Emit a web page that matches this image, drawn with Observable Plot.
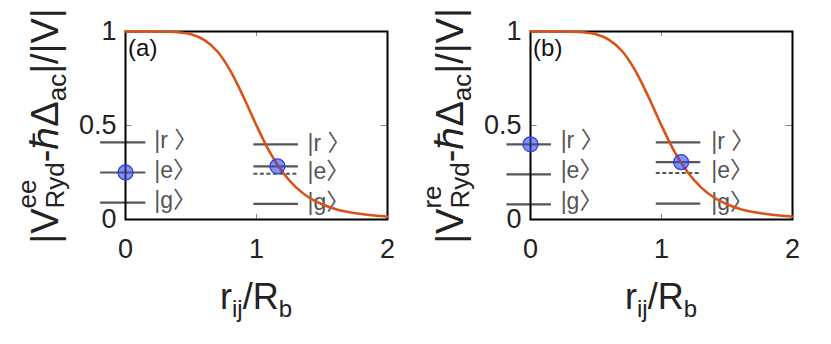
<!DOCTYPE html>
<html><head><meta charset="utf-8">
<script src="https://cdn.jsdelivr.net/npm/d3@7"></script>
<script src="https://cdn.jsdelivr.net/npm/@observablehq/plot@0.6"></script>
<style>
html,body{margin:0;padding:0;background:#fff;}
#fig{position:relative;width:831px;height:344px;overflow:hidden;}
#fig svg{position:absolute;top:0;background:transparent;max-width:none;}
</style></head><body><div id="fig"></div>
<script>
// ---- data ----
const rValues   = [0,0.1,0.2,0.3,0.4,0.5,0.6,0.7,0.8,0.9,1.0,1.1,1.2,1.3,1.4,1.5,1.6,1.7,1.8,1.9,2.0];
const potential = [1,1,1,0.999,0.996,0.985,0.955,0.895,0.792,0.653,0.5,0.36,0.251,0.172,0.117,0.081,0.056,0.04,0.029,0.021,0.015];
const stateLabels = ["|r \u3009", "|e\u3009", "|g\u3009"];
const xTicks = [0, 1, 2];
const yTicks = [0, 0.5, 1];
const panelTags = ["(a)", "(b)"];
const yLabelSups = ["ee", "re"];

// panel (a)
const aLeftLevels  = [0.41, 0.25, 0.09];
const aLeftLabelY  = [0.42, 0.26, 0.10];
const aRightLevels = [0.40, 0.283, 0.083];
const aRightLabelY = [0.405, 0.255, 0.09];
const aDashedLevel = [0.243];
const aDotR = [0, 1.16];
const aDotV = [0.25, 0.283];
// panel (b)
const bLeftLevels  = [0.40, 0.24, 0.08];
const bLeftLabelY  = [0.42, 0.26, 0.095];
const bRightLevels = [0.41, 0.305, 0.084];
const bRightLabelY = [0.415, 0.26, 0.09];
const bDashedLevel = [0.248];
const bDotR = [0, 1.15];
const bDotV = [0.40, 0.305];

// ---- drawing ----
const FONT = '"Liberation Sans", Arial, Helvetica, sans-serif';
const LABEL_FONT = '"Liberation Sans", "Noto Sans CJK SC", "DejaVu Sans", sans-serif';
const curveData = rValues.map((r, i) => ({r, v: potential[i]}));

function panel(cfg) {
  const leftLines = cfg.left.map(y => ({y}));
  const rightLines = cfg.right.map(y => ({y}));
  const leftText = cfg.leftLabelY.map((y, i) => ({y, label: stateLabels[i]}));
  const rightText = cfg.rightLabelY.map((y, i) => ({y, label: stateLabels[i]}));
  const dots = cfg.dotR.map((r, i) => ({r, v: cfg.dotV[i]}));
  const svg = Plot.plot({
    width: cfg.width, height: 344,
    marginLeft: 125, marginRight: cfg.width - 387, marginTop: 31, marginBottom: 125,
    style: {fontFamily: FONT, background: "transparent", overflow: "visible"},
    x: {domain: [0, 2]},
    y: {domain: [0, 1]},
    marks: [
      Plot.axisX(xTicks, {tickSize: 0, tickPadding: 19, fontSize: 27, fill: "#222", label: null, tickFormat: d => String(d)}),
      Plot.axisY(yTicks, {tickSize: 0, tickPadding: 9, fontSize: 27, fill: "#222", label: null, tickFormat: d => String(d)}),
      Plot.ruleX([1], {y1: 0, y2: 0.027, stroke: "#888", strokeWidth: 1}),
      Plot.ruleX([1], {y1: 0.973, y2: 1, stroke: "#888", strokeWidth: 1}),
      Plot.ruleY([0.5], {x1: 0, x2: 0.05, stroke: "#888", strokeWidth: 1}),
      Plot.ruleY([0.5], {x1: 1.95, x2: 2, stroke: "#888", strokeWidth: 1}),
      Plot.ruleY(leftLines, {y: "y", x1: cfg.leftX[0], x2: cfg.leftX[1], stroke: "#555", strokeWidth: 2.2}),
      Plot.ruleY(rightLines, {y: "y", x1: cfg.rightX[0], x2: cfg.rightX[1], stroke: "#555", strokeWidth: 2.2}),
      Plot.ruleY(cfg.dashed, {x1: cfg.rightX[0], x2: cfg.rightX[1], stroke: "#555", strokeWidth: 2, strokeDasharray: "4,2.5"}),
      Plot.text(leftText, {x: cfg.leftLabelX, y: "y", text: "label", textAnchor: "start", fontSize: 23, fontFamily: LABEL_FONT, fill: "#555"}),
      Plot.text(rightText, {x: cfg.rightLabelX, y: "y", text: "label", textAnchor: "start", fontSize: 23, fontFamily: LABEL_FONT, fill: "#555"}),
      Plot.frame({stroke: "#000", strokeWidth: 2}),
      Plot.line(curveData, {x: "r", y: "v", stroke: "#D95319", strokeWidth: 2.6, curve: "monotone-x"}),
      Plot.dot(dots, {x: "r", y: "v", r: 7.5, fill: "#3a4ad0", fillOpacity: 0.6, stroke: "#2b3cf5", strokeWidth: 1.3}),
      Plot.text([cfg.tag], {x: 0.02, y: 0.912, text: d => d, textAnchor: "start", fontSize: 24, fill: "#111"})
    ]
  });
  const s = d3.select(svg);
  // y label with stacked super/subscripts
  const t = s.append("text")
    .attr("transform", "translate(58,126) rotate(-90)")
    .attr("text-anchor", "middle")
    .attr("font-family", FONT).attr("font-size", 38).attr("fill", "#222");
  t.append("tspan").text("|V");
  t.append("tspan").attr("font-size", 26).attr("dy", -22).text(cfg.sup);
  t.append("tspan").attr("font-size", 26).attr("dx", -cfg.supW).attr("dy", 28).text("Ryd");
  t.append("tspan").attr("dy", -6).text("-\u210F\u0394");
  t.append("tspan").attr("font-size", 26).attr("dy", 8).text("ac");
  t.append("tspan").attr("dy", -8).text("|/|V|");
  // x label
  const xl = s.append("text")
    .attr("x", 256).attr("y", 309)
    .attr("text-anchor", "middle")
    .attr("font-family", FONT).attr("font-size", 36).attr("fill", "#222");
  xl.append("tspan").text("r");
  xl.append("tspan").attr("font-size", 24).attr("dy", 8).text("ij");
  xl.append("tspan").attr("dy", -8).text("/R");
  xl.append("tspan").attr("font-size", 24).attr("dy", 8).text("b");
  svg.style.left = cfg.left0 + "px";
  return svg;
}

const fig = document.getElementById("fig");
fig.appendChild(panel({
  width: 405, left0: 0, tag: panelTags[0], sup: yLabelSups[0], supW: 29,
  left: aLeftLevels, right: aRightLevels, dashed: aDashedLevel, dotR: aDotR, dotV: aDotV,
  leftLabelY: aLeftLabelY, rightLabelY: aRightLabelY,
  leftX: [-0.19, 0.155], rightX: [0.98, 1.32], leftLabelX: 0.22, rightLabelX: 1.39
}));
fig.appendChild(panel({
  width: 426, left0: 405, tag: panelTags[1], sup: yLabelSups[1], supW: 23,
  left: bLeftLevels, right: bRightLevels, dashed: bDashedLevel, dotR: bDotR, dotV: bDotV,
  leftLabelY: bLeftLabelY, rightLabelY: bRightLabelY,
  leftX: [-0.18, 0.16], rightX: [0.96, 1.30], leftLabelX: 0.23, rightLabelX: 1.38
}));
</script></body></html>
